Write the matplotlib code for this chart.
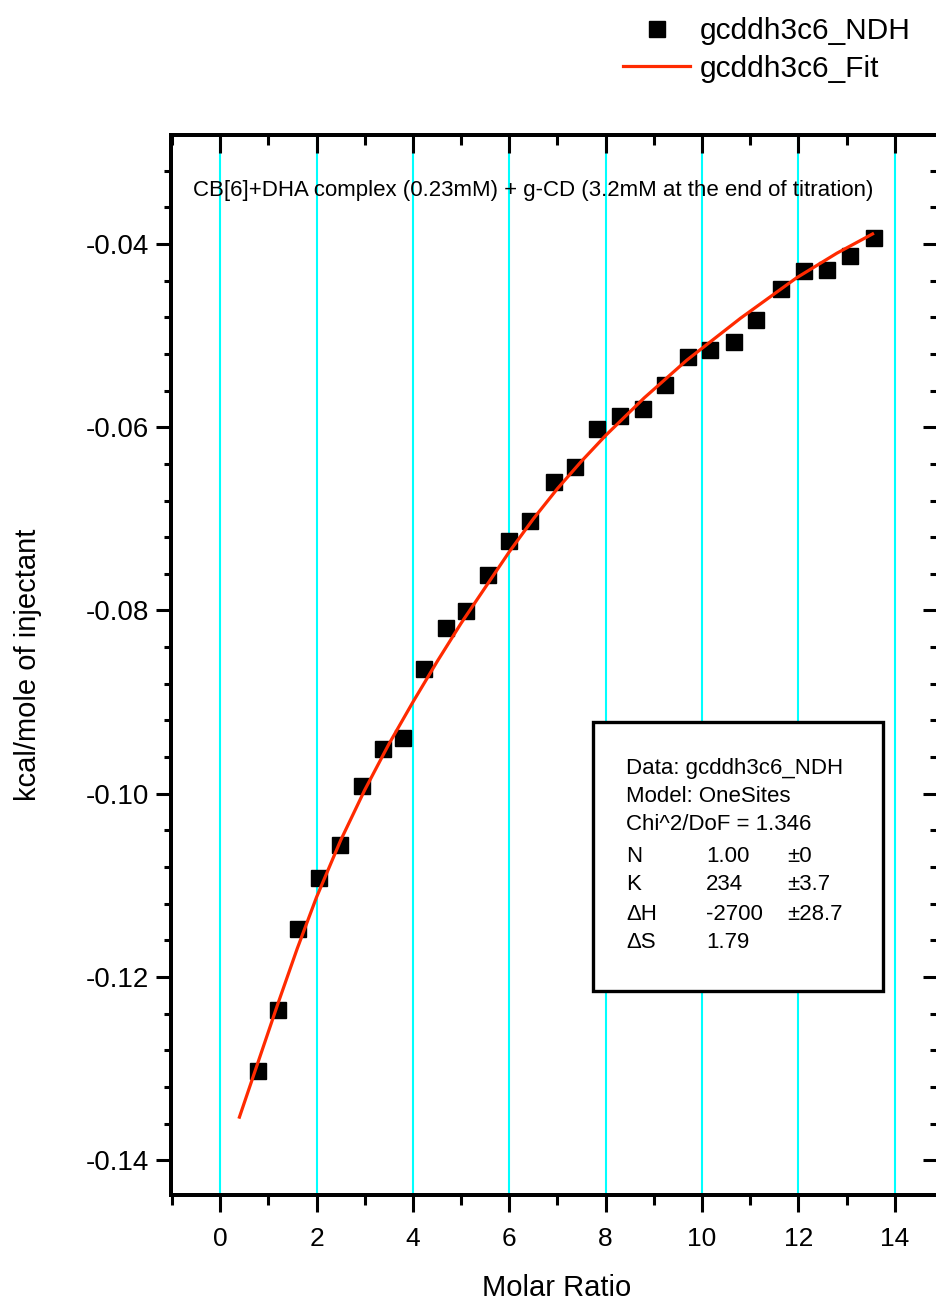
import numpy as np
import matplotlib.pyplot as plt
from matplotlib.patches import Rectangle
from matplotlib.lines import Line2D
from matplotlib.ticker import MultipleLocator, FormatStrFormatter, NullFormatter

plt.rcParams['font.family'] = ['Liberation Sans', 'DejaVu Sans']

# Data
molar_ratio = [0.79, 1.20, 1.62, 2.06, 2.49, 2.95, 3.37, 3.80, 4.24, 4.69,
               5.11, 5.55, 6.00, 6.44, 6.92, 7.37, 7.83, 8.29, 8.77, 9.24,
               9.70, 10.16, 10.66, 11.13, 11.63, 12.11, 12.59, 13.07, 13.56]
ndh = [-0.1303, -0.1236, -0.1148, -0.1092, -0.1056, -0.0992, -0.0951, -0.0939,
       -0.0864, -0.0819, -0.0801, -0.0761, -0.0724, -0.0702, -0.0660, -0.0643,
       -0.0602, -0.0588, -0.0580, -0.0554, -0.0523, -0.0516, -0.0507, -0.0483,
       -0.0449, -0.0429, -0.0428, -0.0413, -0.0393]

fit_x = [0.40, 0.80, 1.20, 1.60, 2.00, 2.50, 3.00, 3.50, 4.00, 4.50, 5.00,
         5.50, 6.00, 6.50, 7.00, 7.50, 8.00, 8.80, 9.68, 10.80, 11.96, 12.80, 13.54]
fit_y = [-0.1353, -0.1291, -0.1229, -0.1169, -0.1113, -0.1051, -0.0996,
         -0.0946, -0.0900, -0.0856, -0.0814, -0.0775, -0.0736, -0.0700,
         -0.0667, -0.0637, -0.0609, -0.0568, -0.0527, -0.0481, -0.0437,
         -0.0410, -0.0389]

series_names = ['gcddh3c6_NDH', 'gcddh3c6_Fit']
title_text = 'CB[6]+DHA complex (0.23mM) + g-CD (3.2mM at the end of titration)'
fit_rows = [('N', '1.00', '\u00b10'),
            ('K', '234', '\u00b13.7'),
            ('\u0394H', '-2700', '\u00b128.7'),
            ('\u0394S', '1.79', '')]
fit_header = ['Data: gcddh3c6_NDH', 'Model: OneSites', 'Chi^2/DoF = 1.346']

W, H = 936, 1300
fig = plt.figure(figsize=(W / 100, H / 100), dpi=100)


def fx(px):
    return px / W


def fy(py):
    return 1 - py / H


left, right, top, bottom = 171, 940, 135, 1195
ax = fig.add_axes([fx(left), fy(bottom), fx(right) - fx(left), fy(top) - fy(bottom)])

xlim = (-1.02, 14.94)
ylim = (-0.1438, -0.0281)
ax.set_xlim(xlim)
ax.set_ylim(ylim)

for gx in range(0, 15, 2):
    ax.axvline(gx, color='#00FFFF', lw=1.5, zorder=1)

ax.plot(molar_ratio, ndh, 's', color='black', ms=11.5, zorder=3)
ax.plot(fit_x, fit_y, '-', color='#FF2A00', lw=2.3, zorder=4)

for s in ax.spines.values():
    s.set_linewidth(2.8)

ax.xaxis.set_major_locator(MultipleLocator(2))
ax.xaxis.set_minor_locator(MultipleLocator(1))
ax.yaxis.set_major_locator(MultipleLocator(0.02))
ax.yaxis.set_minor_locator(MultipleLocator(0.004))
ax.yaxis.set_major_formatter(FormatStrFormatter('%.2f'))

ax.tick_params(axis='x', which='major', direction='out', length=12, width=2.2,
               labelsize=19, pad=11, top=False)
ax.tick_params(axis='x', which='minor', direction='out', length=7, width=2.2, top=False)
ax.tick_params(axis='y', which='major', direction='out', length=11, width=2.2,
               labelsize=20, pad=5, right=False)
ax.tick_params(axis='y', which='minor', direction='out', length=5, width=2.2, right=False)

# inward ticks on top and right
ax_top = ax.twiny()
ax_top.set_xlim(xlim)
ax_top.xaxis.set_major_locator(MultipleLocator(2))
ax_top.xaxis.set_minor_locator(MultipleLocator(1))
ax_top.xaxis.set_major_formatter(NullFormatter())
ax_top.tick_params(axis='x', which='major', direction='in', length=13, width=2.2)
ax_top.tick_params(axis='x', which='minor', direction='in', length=7, width=2.2)
ax_top.tick_params(axis='y', left=False, right=False, labelleft=False, labelright=False)
ax_right = ax.twinx()
ax_right.set_ylim(ylim)
ax_right.yaxis.set_major_locator(MultipleLocator(0.02))
ax_right.yaxis.set_minor_locator(MultipleLocator(0.004))
ax_right.yaxis.set_major_formatter(NullFormatter())
ax_right.tick_params(axis='y', which='major', direction='in', length=12, width=2.2)
ax_right.tick_params(axis='y', which='minor', direction='in', length=7, width=2.2)
for a in (ax_top, ax_right):
    for s in a.spines.values():
        s.set_linewidth(2.8)

ax.set_xlabel('Molar Ratio', fontsize=21)
ax.xaxis.set_label_coords(0.502, -0.075)
ax.set_ylabel('kcal/mole of injectant', fontsize=21)
ax.yaxis.set_label_coords(-0.168, 0.5)

ax.text(0.471, 0.948, title_text, transform=ax.transAxes, ha='center', va='center',
        fontsize=16, zorder=6)

# fit parameter box
box = Rectangle((fx(593), fy(991)), fx(883) - fx(593), fy(722) - fy(991),
                transform=fig.transFigure, facecolor='white', edgecolor='black',
                lw=2.4, zorder=5)
ax_right.add_patch(box)
row_y = [768, 797, 825, 856, 885, 915, 943]
for i, line in enumerate(fit_header):
    ax_right.text(fx(626), fy(row_y[i]), line, transform=fig.transFigure,
                  ha='left', va='center', fontsize=16, zorder=6)
for j, (name, val, err) in enumerate(fit_rows):
    yy = fy(row_y[3 + j])
    for cx, s in zip([626, 706, 787], [name, val, err]):
        ax_right.text(fx(cx), yy, s, transform=fig.transFigure, ha='left',
                      va='center', fontsize=16, zorder=6)

handles = [Line2D([], [], ls='none', marker='s', color='black', ms=11),
           Line2D([], [], color='#FF2A00', lw=2.3)]
fig.legend(handles, series_names, loc='upper left', bbox_to_anchor=(fx(623), fy(17)),
           frameon=False, fontsize=21.5, handlelength=2.25, handletextpad=0.33,
           labelspacing=0.32, borderpad=0, borderaxespad=0)

fig.savefig('out.png', dpi=100)
